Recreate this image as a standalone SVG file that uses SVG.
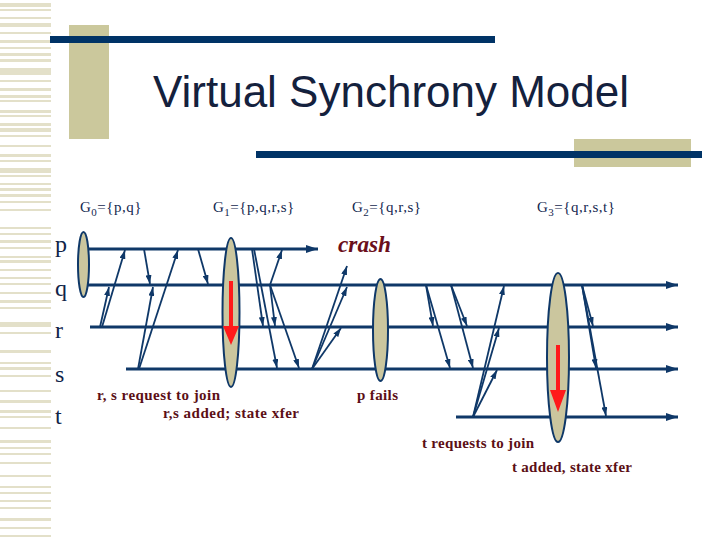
<svg xmlns="http://www.w3.org/2000/svg" width="720" height="540" viewBox="0 0 720 540">
<defs>
<style>
.stripe{fill:#e3e0c9}
.deco{fill:#cbc89c}
.bar{fill:#003366}
.proc{stroke:#0f3868;stroke-width:3;fill:none}
.msg{stroke:#0f3868;stroke-width:1.8;fill:none;marker-end:url(#ah)}
.view{fill:#cbc69e;stroke:#0f3868;stroke-width:2}
.red{fill:#ff1a1a}
.plabel{font-family:"Liberation Serif",serif;font-size:24px;fill:#102448}
.glabel{font-family:"Liberation Serif",serif;font-size:15px;fill:#142850;letter-spacing:0.5px}
.note{font-family:"Liberation Serif",serif;font-size:15px;font-weight:bold;fill:#5c0f16}
.title{font-family:"Liberation Sans",Arial,sans-serif;font-size:44px;fill:#14213d}
.crash{font-family:"Liberation Serif",serif;font-size:23px;font-weight:bold;font-style:italic;fill:#6b0f1a}
</style>
<marker id="ah" markerUnits="userSpaceOnUse" markerWidth="9" markerHeight="6" refX="9" refY="3" orient="auto">
<path d="M0,0 L9,3 L0,6 z" fill="#0f3868"/>
</marker>
<marker id="ahp" markerUnits="userSpaceOnUse" markerWidth="12" markerHeight="8" refX="12" refY="4" orient="auto">
<path d="M0,0 L12,4 L0,8 z" fill="#0f3868"/>
</marker>
</defs>
<rect width="720" height="540" fill="#ffffff"/>
<g id="left-strip">
<rect class="stripe" x="0" y="3" width="51" height="4"/>
<rect class="stripe" x="0" y="9" width="51" height="2"/>
<rect class="stripe" x="0" y="17" width="51" height="2"/>
<rect class="stripe" x="0" y="23" width="51" height="4"/>
<rect class="stripe" x="0" y="32" width="51" height="2"/>
<rect class="stripe" x="0" y="40" width="51" height="3"/>
<rect class="stripe" x="0" y="47" width="51" height="2"/>
<rect class="stripe" x="0" y="53" width="51" height="3"/>
<rect class="stripe" x="0" y="59" width="51" height="3"/>
<rect class="stripe" x="0" y="68" width="51" height="7"/>
<rect class="stripe" x="0" y="80" width="51" height="2"/>
<rect class="stripe" x="0" y="88" width="51" height="3"/>
<rect class="stripe" x="0" y="95" width="51" height="3"/>
<rect class="stripe" x="0" y="100" width="51" height="2"/>
<rect class="stripe" x="0" y="110" width="51" height="3"/>
<rect class="stripe" x="0" y="115" width="51" height="2"/>
<rect class="stripe" x="0" y="123" width="51" height="3"/>
<rect class="stripe" x="0" y="128" width="51" height="4"/>
<rect class="stripe" x="0" y="135" width="51" height="2"/>
<rect class="stripe" x="0" y="145" width="51" height="2"/>
<rect class="stripe" x="0" y="154" width="51" height="3"/>
<rect class="stripe" x="0" y="160" width="51" height="2"/>
<rect class="stripe" x="0" y="168" width="51" height="5"/>
<rect class="stripe" x="0" y="175" width="51" height="2"/>
<rect class="stripe" x="0" y="183" width="51" height="2"/>
<rect class="stripe" x="0" y="188" width="51" height="3"/>
<rect class="stripe" x="0" y="194" width="51" height="3"/>
<rect class="stripe" x="0" y="201" width="51" height="2"/>
<rect class="stripe" x="0" y="209" width="51" height="2"/>
<rect class="stripe" x="0" y="227" width="51" height="2"/>
<rect class="stripe" x="0" y="233" width="51" height="2"/>
<rect class="stripe" x="0" y="240" width="51" height="3"/>
<rect class="stripe" x="0" y="247" width="51" height="2"/>
<rect class="stripe" x="0" y="256" width="51" height="2"/>
<rect class="stripe" x="0" y="260" width="51" height="3"/>
<rect class="stripe" x="0" y="269" width="51" height="2"/>
<rect class="stripe" x="0" y="277" width="51" height="2"/>
<rect class="stripe" x="0" y="283" width="51" height="2"/>
<rect class="stripe" x="0" y="292" width="51" height="2"/>
<rect class="stripe" x="0" y="300" width="51" height="3"/>
<rect class="stripe" x="0" y="307" width="51" height="2"/>
<rect class="stripe" x="0" y="322" width="51" height="5"/>
<rect class="stripe" x="0" y="332" width="51" height="2"/>
<rect class="stripe" x="0" y="350" width="51" height="3"/>
<rect class="stripe" x="0" y="362" width="51" height="2"/>
<rect class="stripe" x="0" y="367" width="51" height="3"/>
<rect class="stripe" x="0" y="375" width="51" height="2"/>
<rect class="stripe" x="0" y="390" width="51" height="2"/>
<rect class="stripe" x="0" y="400" width="51" height="3"/>
<rect class="stripe" x="0" y="410" width="51" height="3"/>
<rect class="stripe" x="0" y="416" width="51" height="2"/>
<rect class="stripe" x="0" y="427" width="51" height="2"/>
<rect class="stripe" x="0" y="440" width="51" height="3"/>
<rect class="stripe" x="0" y="447" width="51" height="2"/>
<rect class="stripe" x="0" y="453" width="51" height="2"/>
<rect class="stripe" x="0" y="462" width="51" height="2"/>
<rect class="stripe" x="0" y="475" width="51" height="2"/>
<rect class="stripe" x="0" y="486" width="51" height="2"/>
<rect class="stripe" x="0" y="492" width="51" height="2"/>
<rect class="stripe" x="0" y="500" width="51" height="2"/>
<rect class="stripe" x="0" y="507" width="51" height="2"/>
<rect class="stripe" x="0" y="518" width="51" height="3"/>
<rect class="stripe" x="0" y="527" width="51" height="2"/>
<rect class="stripe" x="0" y="535" width="51" height="2"/>
</g>
<g id="title-deco">
<rect class="deco" x="69" y="25" width="40" height="114"/>
<rect class="bar" x="50" y="36" width="445" height="7"/>
<rect class="deco" x="574" y="139" width="117" height="28"/>
<rect class="bar" x="256" y="151" width="446" height="7"/>
</g>
<text id="title" class="title" x="391" y="107" text-anchor="middle">Virtual Synchrony Model</text>
<g id="group-labels">
<text class="glabel" x="80" y="212">G<tspan font-size="11" dy="4">0</tspan><tspan dy="-4">={p,q}</tspan></text>
<text class="glabel" x="213" y="212">G<tspan font-size="11" dy="4">1</tspan><tspan dy="-4">={p,q,r,s}</tspan></text>
<text class="glabel" x="352" y="212">G<tspan font-size="11" dy="4">2</tspan><tspan dy="-4">={q,r,s}</tspan></text>
<text class="glabel" x="537" y="212">G<tspan font-size="11" dy="4">3</tspan><tspan dy="-4">={q,r,s,t}</tspan></text>
</g>
<g id="process-p">
<text class="plabel" x="55" y="252">p</text>
<line class="proc" x1="88" y1="249" x2="318" y2="249" marker-end="url(#ahp)"/>
</g>
<g id="process-q">
<text class="plabel" x="55" y="296">q</text>
<line class="proc" x1="88" y1="285" x2="678" y2="285" marker-end="url(#ahp)"/>
</g>
<g id="process-r">
<text class="plabel" x="55" y="338">r</text>
<line class="proc" x1="90" y1="327" x2="678" y2="327" marker-end="url(#ahp)"/>
</g>
<g id="process-s">
<text class="plabel" x="55" y="382">s</text>
<line class="proc" x1="126" y1="369" x2="678" y2="369" marker-end="url(#ahp)"/>
</g>
<g id="process-t">
<text class="plabel" x="55" y="424">t</text>
<line class="proc" x1="456" y1="417" x2="678" y2="417" marker-end="url(#ahp)"/>
</g>
<g id="connectors">
<line class="msg" x1="102" y1="327" x2="125" y2="250"/>
<line class="msg" x1="100" y1="327" x2="109" y2="287"/>
<line class="msg" x1="144" y1="249" x2="150" y2="284"/>
<line class="msg" x1="138" y1="369" x2="153" y2="287"/>
<line class="msg" x1="139" y1="369" x2="178" y2="250"/>
<line class="msg" x1="198" y1="249" x2="208" y2="284"/>
<line class="msg" x1="252" y1="249" x2="263" y2="326"/>
<line class="msg" x1="254" y1="249" x2="277" y2="368"/>
<line class="msg" x1="270" y1="285" x2="282" y2="250"/>
<line class="msg" x1="270" y1="285" x2="275" y2="326"/>
<line class="msg" x1="270" y1="285" x2="299" y2="368"/>
<line class="msg" x1="312" y1="369" x2="347" y2="266"/>
<line class="msg" x1="312" y1="369" x2="347" y2="287"/>
<line class="msg" x1="312" y1="369" x2="341" y2="328"/>
<line class="msg" x1="426" y1="285" x2="433" y2="326"/>
<line class="msg" x1="426" y1="285" x2="450" y2="368"/>
<line class="msg" x1="451" y1="285" x2="467" y2="326"/>
<line class="msg" x1="451" y1="285" x2="473" y2="368"/>
<line class="msg" x1="473" y1="417" x2="504" y2="286"/>
<line class="msg" x1="473" y1="417" x2="499" y2="328"/>
<line class="msg" x1="473" y1="417" x2="497" y2="370"/>
<line class="msg" x1="582" y1="285" x2="593" y2="326"/>
<line class="msg" x1="582" y1="285" x2="596" y2="368"/>
<line class="msg" x1="582" y1="285" x2="606" y2="416"/>
</g>
<g id="view-G0">
<ellipse class="view" cx="83.5" cy="264.5" rx="5.5" ry="32.5"/>
</g>
<g id="view-G1">
<ellipse class="view" cx="231" cy="312.5" rx="8.5" ry="74.5"/>
<path class="red" d="M229,281 h4 v45 h6 l-8,19 l-8,-19 h6 z"/>
</g>
<g id="view-G2">
<ellipse class="view" cx="380.5" cy="330" rx="7.5" ry="51"/>
</g>
<g id="view-G3">
<ellipse class="view" cx="558" cy="357.5" rx="11" ry="84.5"/>
<path class="red" d="M556,345 h4 v45 h6 l-8,22 l-8,-22 h6 z"/>
</g>
<g id="notes">
<text class="crash" x="338" y="252" textLength="53" lengthAdjust="spacingAndGlyphs">crash</text>
<text class="note" x="97" y="400" textLength="123" lengthAdjust="spacing">r, s request to join</text>
<text class="note" x="163" y="418" textLength="136" lengthAdjust="spacing">r,s added; state xfer</text>
<text class="note" x="357" y="400" textLength="41" lengthAdjust="spacing">p fails</text>
<text class="note" x="422" y="448" textLength="112" lengthAdjust="spacing">t requests to join</text>
<text class="note" x="512" y="472" textLength="120" lengthAdjust="spacing">t added, state xfer</text>
</g>
</svg>
